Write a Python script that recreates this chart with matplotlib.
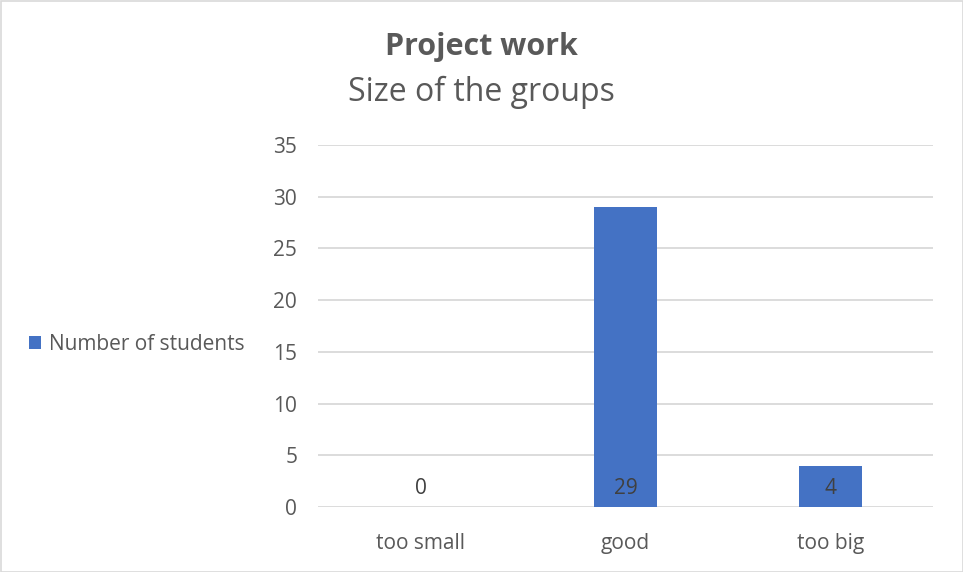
import matplotlib
matplotlib.use("Agg")
import matplotlib.pyplot as plt
from matplotlib.patches import Rectangle

categories = ["too small", "good", "too big"]
values = [0, 29, 4]
yticks = [0, 5, 10, 15, 20, 25, 30, 35]
series_name = "Number of students"

plt.rcParams['font.family'] = ['Open Sans', 'DejaVu Sans']
txt = '#595959'
bar_color = '#4472C4'
fs = 15

fig = plt.figure(figsize=(9.63, 5.72), dpi=100)
fig.patch.set_facecolor('white')
ax = fig.add_axes([318/963, 1-507/572, 615/963, (507-145)/572])

x = list(range(len(categories)))
bars = ax.bar(x, values, width=0.31, color=bar_color, zorder=3, label=series_name)
ax.set_xlim(-0.5, len(categories)-0.5)
ax.set_ylim(0, 35)
ax.set_yticks(yticks)
ax.set_yticklabels([str(v) for v in yticks])
ax.set_xticks(x)
ax.set_xticklabels(categories)
ax.tick_params(axis='both', length=0, colors=txt, labelsize=fs)
ax.tick_params(axis='y', pad=15)
ax.tick_params(axis='x', pad=19)
ax.grid(axis='y', color='#D9D9D9', linewidth=1.3, zorder=0)
for s in ax.spines.values():
    s.set_visible(False)

for xi, v in zip(x, values):
    ax.annotate(str(v), (xi, 0), xytext=(0, 13.5), textcoords='offset points',
                ha='center', va='center', color='#404040', fontsize=fs, zorder=4)

fig.text(481/963, 1-47/572, "Project work", ha='center', va='center',
         fontsize=22, fontweight='bold', color=txt)
fig.text(481/963, 1-92/572, "Size of the groups", ha='center', va='center',
         fontsize=23, color=txt)

leg = fig.legend(handles=[bars], labels=[series_name], loc='center left',
                 bbox_to_anchor=(10/963, 1-344/572), frameon=False,
                 fontsize=fs, handlelength=0.6, handleheight=0.6,
                 handletextpad=0.35, labelcolor=txt)

fig.patches.append(Rectangle((0.5/963, 0.5/572), 1-1/963, 1-1/572,
                             transform=fig.transFigure, fill=False,
                             edgecolor='#D9D9D9', linewidth=1.2))

fig.savefig("out.png", dpi=100)
